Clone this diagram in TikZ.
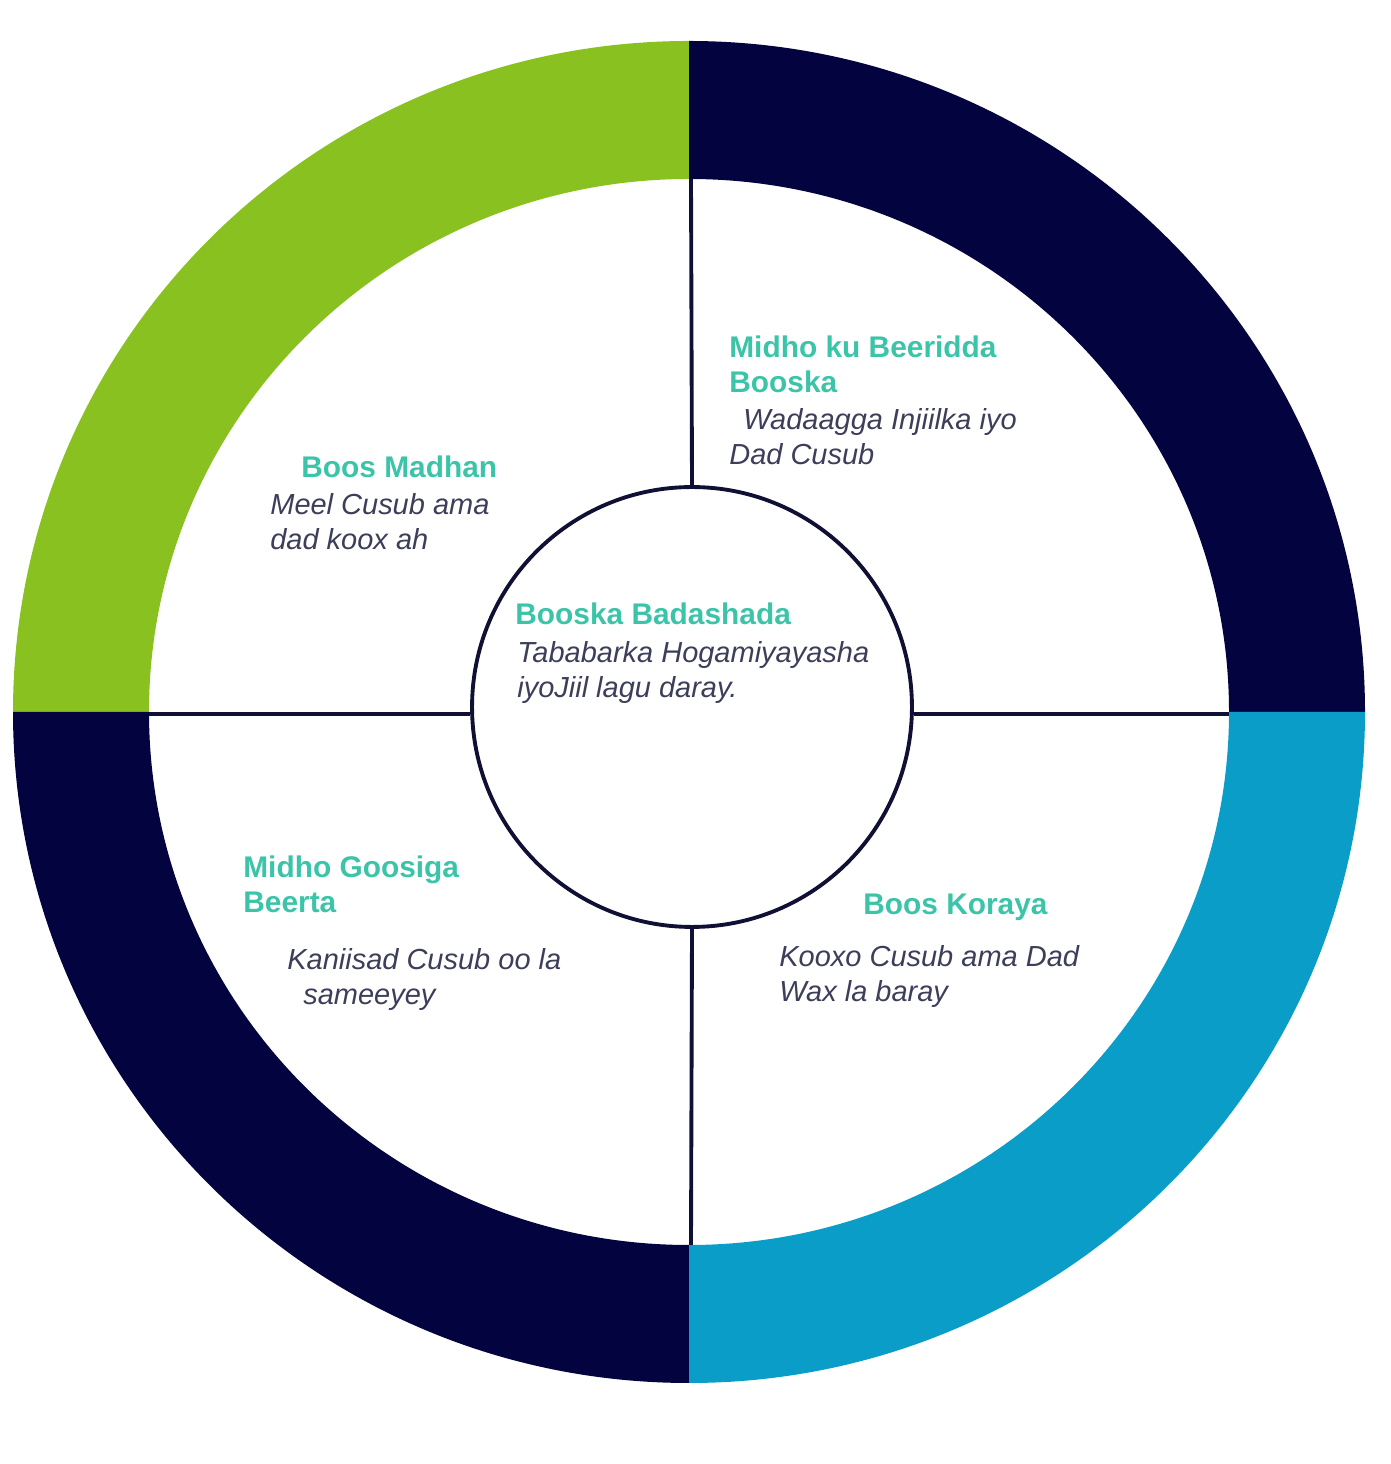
\documentclass[tikz,border=0pt]{standalone}
\usepackage{fontspec}
\setmainfont{Liberation Sans}
\usepackage{tikz}

\definecolor{leafgreen}{HTML}{89C220}
\definecolor{deepnavy}{HTML}{03033F}
\definecolor{seablue}{HTML}{0A9DC8}
\definecolor{headteal}{HTML}{3CC4A9}
\definecolor{notegray}{HTML}{3C3E5A}
\definecolor{rimline}{HTML}{101035}

\tikzset{
    head/.style={font=\fontsize{17}{20}\selectfont\bfseries, text=headteal,
        anchor=base west, inner sep=0pt, align=left},
    note/.style={font=\fontsize{16.5}{20}\selectfont\itshape, text=notegray,
        anchor=base west, inner sep=0pt, align=left},
    rim/.style={draw=rimline, line width=2.2pt}
}

\begin{document}
\begin{tikzpicture}[x=0.02cm, y=0.02cm]
    \useasboundingbox (0,0) rectangle (1390,1464);

    % outer ring, one quarter at a time
    \fill[leafgreen] (689,1423) arc[start angle=90, end angle=180, x radius=676, y radius=671]
        -- (149,752) arc[start angle=180, end angle=90, x radius=540, y radius=533] -- cycle;
    \fill[deepnavy] (1365,752) arc[start angle=0, end angle=90, x radius=676, y radius=671]
        -- (689,1285) arc[start angle=90, end angle=0, x radius=540, y radius=533] -- cycle;
    \fill[deepnavy] (13,752) arc[start angle=180, end angle=270, x radius=676, y radius=671]
        -- (689,219) arc[start angle=270, end angle=180, x radius=540, y radius=533] -- cycle;
    \fill[seablue] (689,81) arc[start angle=270, end angle=360, x radius=676, y radius=671]
        -- (1229,752) arc[start angle=360, end angle=270, x radius=540, y radius=533] -- cycle;

    % hub and spokes
    \node[rim, circle, minimum size=8.8cm, inner sep=0pt] (hub) at (692,757) {};
    \coordinate (ringN) at (691,1285);
    \coordinate (ringS) at (691,219);
    \coordinate (ringW) at (149,750);
    \coordinate (ringE) at (1229,750);
    \draw[rim] (ringN) -- (hub.north);
    \draw[rim] (hub.south) -- (ringS);
    \draw[rim] (ringW) -- (ringW -| hub.west);
    \draw[rim] (ringE -| hub.east) -- (ringE);

    % labels (base = last line)
    \node[head] (sowH) at (729,1071) {Midho ku Beeridda\\Booska};
    \node[note] (sowN) at (729,999) {\hspace*{0.28cm}Wadaagga Injiilka iyo\\Dad Cusub};

    \node[head] (emptyH) at (301,986) {Boos Madhan};
    \node[note] (emptyN) at (270,914) {Meel Cusub ama\\dad koox ah};

    \node[head] (hubH) at (515,839) {Booska Badashada};
    \node[note] (hubN) at (517,766) {Tababarka Hogamiyayasha\\iyoJiil lagu daray.};

    \node[head] (reapH) at (243,551) {Midho Goosiga\\Beerta};
    \node[note] (reapN) at (287,459) {Kaniisad Cusub oo la\\\hspace*{0.32cm}sameeyey};

    \node[head] (growH) at (863,549) {Boos Koraya};
    \node[note] (growN) at (779,462) {Kooxo Cusub ama Dad\\Wax la baray};
\end{tikzpicture}
\end{document}
